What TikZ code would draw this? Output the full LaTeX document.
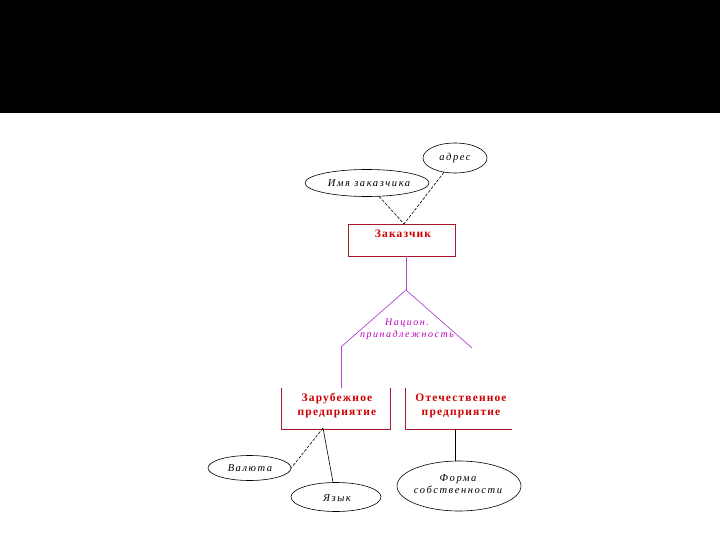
\documentclass[tikz,border=0pt]{standalone}
\usepackage{fontspec}
\setmainfont{Liberation Serif}
\newfontfamily\lblfont[LetterSpace=15]{Liberation Serif}
\newfontfamily\boxfont[LetterSpace=10]{Liberation Serif}
\definecolor{boxline}{RGB}{170,25,40}
\definecolor{boxtxt}{RGB}{205,0,0}
\definecolor{trline}{RGB}{175,70,205}
\definecolor{trtxt}{RGB}{190,0,190}
\tikzset{
  attr/.style={draw=black, ellipse, line width=0.6pt, inner sep=0pt},
  attrtxt/.style={font=\lblfont\itshape\fontsize{10.5}{12}\selectfont, inner sep=0pt},
  entbox/.style={draw=boxline, line width=0.7pt, rectangle, inner sep=0pt},
  entarea/.style={rectangle, inner sep=0pt},
  enttxt/.style={font=\boxfont\bfseries\fontsize{11.5}{14}\selectfont, text=boxtxt, align=center, inner sep=0pt},
  edgeline/.style={boxline, line width=0.7pt},
  conn/.style={black, line width=0.6pt},
  dconn/.style={black, line width=0.6pt, dash pattern=on 3pt off 1.5pt},
  tri/.style={trline, line width=0.7pt},
  tritxt/.style={font=\lblfont\itshape\fontsize{10}{12}\selectfont, text=trtxt, align=center, inner sep=0pt}
}
\usetikzlibrary{shapes.geometric}
\begin{document}
\begin{tikzpicture}[x=1pt,y=-1pt]
\useasboundingbox (0,0) rectangle (720,540);
\fill[black] (0,0) rectangle (720,113);

% Customer entity
\node[entbox, minimum width=107, minimum height=32] (zak) at (401.5,240) {};
\node[enttxt] (zakt) at (403,234) {Заказчик};
\coordinate (zaktop) at (404,224);

% Attributes of customer
\node[attr, minimum width=124, minimum height=27] (imya) at (367,183) {};
\node[attrtxt] (imyat) at (369,183) {Имя заказчика};
\node[attr, minimum width=64, minimum height=30] (adres) at (455,158) {};
\node[attrtxt] (adrest) at (455,158) {адрес};
\draw[dconn] (imya) -- (zaktop);
\draw[dconn] (adres) -- (zaktop);

% Category triangle
\coordinate (apex) at (406,290);
\coordinate (tl) at (341,347);
\coordinate (tr) at (472,348);
\draw[tri] (zak.south -| apex) -- (apex);
\draw[tri] (tl) -- (apex) -- (tr);
\node[tritxt] (trt) at (407,329) {Национ.\\принадлежность};

% Subtype entities (open top)
\node[entarea, minimum width=108, minimum height=41] (zar) at (336,408.5) {};
\draw[edgeline] (zar.north west) -- (zar.south west) -- (zar.south east) -- (zar.north east);
\node[enttxt] (zart) at (337,406) {Зарубежное\\предприятие};
\node[entarea, minimum width=106, minimum height=41] (ote) at (459,408.5) {};
\draw[edgeline] (ote.north west) -- (ote.south west) -- (ote.south east);
\node[enttxt] (otet) at (461,406) {Отечественное\\предприятие};
\draw[tri] (tl) -- (tl |- zar.north);

% Attributes of subtypes
\coordinate (zarbot) at (323,428);
\node[attr, minimum width=83, minimum height=25] (val) at (249.5,468) {};
\node[attrtxt] (valt) at (250,468) {Валюта};
\node[attr, minimum width=90, minimum height=29] (yaz) at (336,497) {};
\node[attrtxt] (yazt) at (337,498) {Язык};
\draw[dconn] (zarbot) -- (val.east);
\draw[conn] (zarbot) -- (yaz.north -| 333,0);
\node[attr, minimum width=124, minimum height=50] (form) at (459,486) {};
\node[attrtxt, align=center] (formt) at (458,484) {Форма\\собственности};
\draw[conn] (ote.south -| 455,0) -- (form.north -| 455,0);
\end{tikzpicture}
\end{document}
